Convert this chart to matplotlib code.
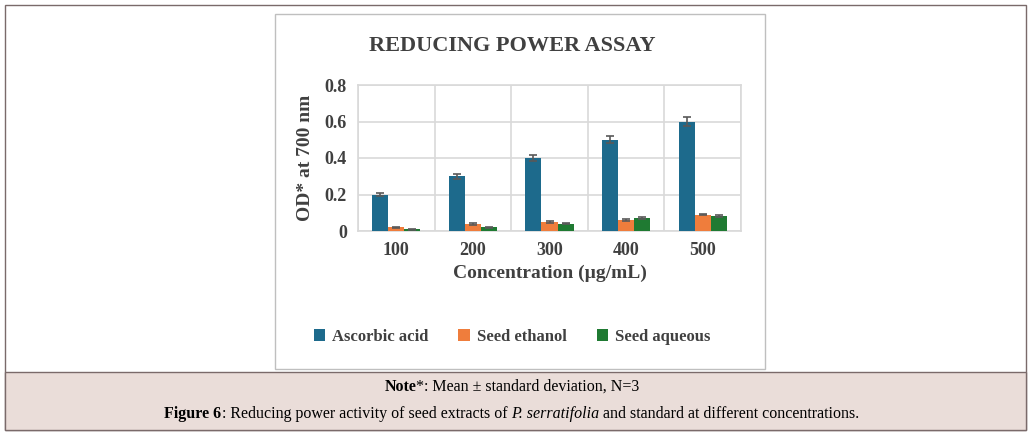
import matplotlib
matplotlib.use("Agg")
import matplotlib.pyplot as plt
import numpy as np
from matplotlib.patches import Rectangle
from matplotlib.offsetbox import TextArea, HPacker, AnchoredOffsetbox

categories = ["100", "200", "300", "400", "500"]
ascorbic = [0.20, 0.30, 0.40, 0.50, 0.60]
ascorbic_err = [0.01, 0.015, 0.015, 0.02, 0.025]
ethanol = [0.02, 0.04, 0.05, 0.06, 0.09]
ethanol_err = [0.004, 0.005, 0.005, 0.005, 0.005]
aqueous = [0.01, 0.02, 0.04, 0.07, 0.08]
aqueous_err = [0.003, 0.004, 0.004, 0.006, 0.005]

W, H = 1031, 446
fig = plt.figure(figsize=(W/100, H/100), dpi=100)
serif = "Liberation Serif"

def box(x0, y0, x1, y1, **kw):
    fig.patches.append(Rectangle((x0/W, 1-y1/H), (x1-x0)/W, (y1-y0)/H,
                                 transform=fig.transFigure, figure=fig, zorder=-5, **kw))

box(5, 5, 1026, 430, fill=False, edgecolor="#7a6a6a", lw=1)
box(5, 372, 1026, 430, facecolor="#eaddd9", edgecolor="#7a6a6a", lw=1)
box(275, 14, 765, 369, facecolor="white", edgecolor="#bfbfbf", lw=1)

ax = fig.add_axes([358/W, 1-231/H, (741-358)/W, (231-85)/H])
ax.set_zorder(5)
x = np.arange(len(categories))
w = 0.21
cols = ["#1d6a8c", "#ef7d3c", "#1f7a32"]
ekw = dict(ecolor="#595959", capsize=3, elinewidth=1.2, capthick=1.2)
ax.bar(x-w, ascorbic, w, yerr=ascorbic_err, color=cols[0], label="Ascorbic acid", error_kw=ekw, zorder=3)
ax.bar(x, ethanol, w, yerr=ethanol_err, color=cols[1], label="Seed ethanol", error_kw=ekw, zorder=3)
ax.bar(x+w, aqueous, w, yerr=aqueous_err, color=cols[2], label="Seed aqueous", error_kw=ekw, zorder=3)
ax.set_xlim(-0.5, 4.5)
ax.set_ylim(0, 0.8)
ax.set_yticks([0, 0.2, 0.4, 0.6, 0.8])
ax.set_yticklabels(["0", "0.2", "0.4", "0.6", "0.8"])
ax.set_xticks(x)
ax.set_xticklabels(categories)
ax.set_xticks(np.arange(-0.5, 5, 1), minor=True)
ax.grid(axis="y", color="#d9d9d9", lw=1.2, zorder=0)
ax.grid(axis="x", which="minor", color="#d9d9d9", lw=1.2, zorder=0)
ax.tick_params(which="both", length=0, labelsize=13, colors="#404040", pad=8)
for lab in ax.get_xticklabels() + ax.get_yticklabels():
    lab.set_fontfamily(serif); lab.set_fontweight("bold")
for s in ax.spines.values():
    s.set_color("#d9d9d9"); s.set_linewidth(1.2)
ax.set_xlabel("Concentration (µg/mL)", fontfamily=serif, fontweight="bold", fontsize=14, color="#404040", labelpad=4)
ax.set_ylabel("OD* at 700 nm", fontfamily=serif, fontweight="bold", fontsize=14, color="#404040", labelpad=8)

fig.text(512/W, 1-46/H, "REDUCING POWER ASSAY", ha="center", va="center",
         fontfamily=serif, fontweight="bold", fontsize=16, color="#404040")
leg = fig.legend(loc="center", bbox_to_anchor=(512/W, 1-337/H), ncol=3, frameon=False,
                 prop=dict(family=serif, weight="bold", size=12), handlelength=0.7,
                 handleheight=0.7, columnspacing=1.8, handletextpad=0.4)
for t in leg.get_texts():
    t.set_color("#404040")

def rich(parts, y):
    areas = [TextArea(t, textprops=dict(family=serif, weight=wt, style=st, size=11.5)) for t, wt, st in parts]
    pk = HPacker(children=areas, pad=0, sep=0)
    ab = AnchoredOffsetbox(loc="center", child=pk, frameon=False, bbox_to_anchor=(512/W, 1-y/H),
                           bbox_transform=fig.transFigure, pad=0, borderpad=0)
    fig.add_artist(ab)

rich([("Note", "bold", "normal"), ("*: Mean ± standard deviation, N=3", "normal", "normal")], 387)
rich([("Figure 6", "bold", "normal"), (": Reducing power activity of seed extracts of ", "normal", "normal"),
      ("P. serratifolia", "normal", "italic"), (" and standard at different concentrations.", "normal", "normal")], 414)

fig.savefig("out.png", dpi=100)
